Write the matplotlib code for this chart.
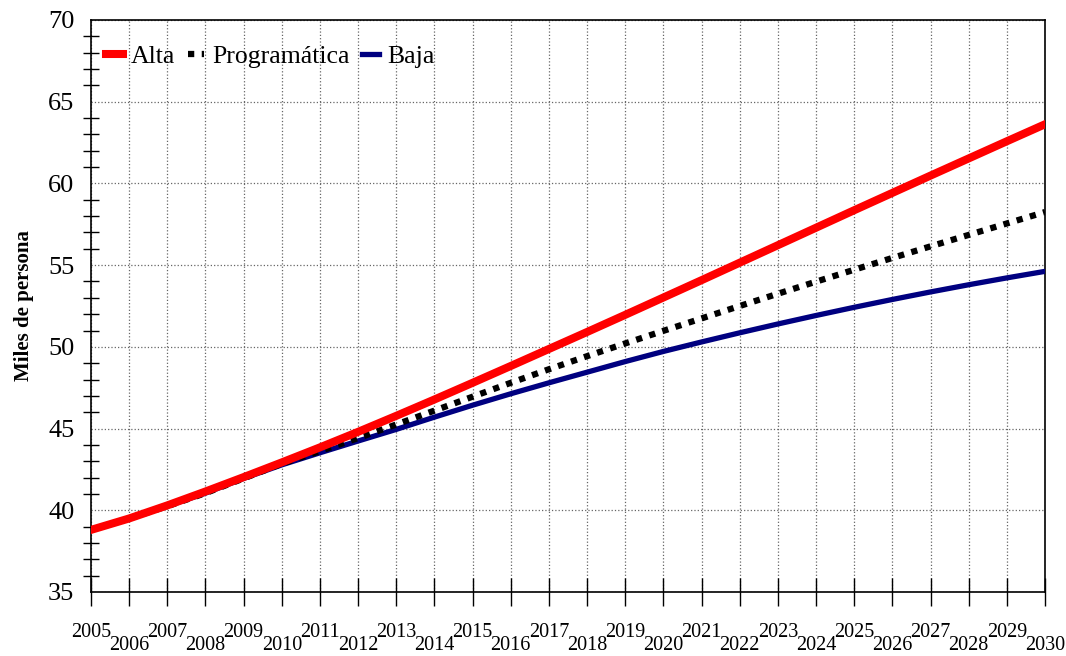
import matplotlib
matplotlib.use("Agg")
from matplotlib import pyplot as plt
from matplotlib.ticker import MultipleLocator
from matplotlib.transforms import ScaledTranslation

years = list(range(2005, 2031))

alta = [38.8, 39.5, 40.3, 41.15, 42.03, 42.93, 43.85, 44.8, 45.78, 46.78,
        47.8, 48.83, 49.87, 50.91, 51.96, 53.02, 54.08, 55.15, 56.22, 57.29,
        58.36, 59.42, 60.48, 61.53, 62.58, 63.62]

programatica = [38.8, 39.5, 40.25, 41.05, 41.95, 42.85, 43.62, 44.42, 45.25, 46.1,
                46.95, 47.8, 48.63, 49.43, 50.21, 50.98, 51.74, 52.5, 53.25, 53.99,
                54.72, 55.44, 56.15, 56.85, 57.55, 58.25]

baja = [38.8, 39.5, 40.25, 41.05, 41.95, 42.78, 43.52, 44.24, 44.95, 45.7,
        46.43, 47.13, 47.8, 48.45, 49.1, 49.72, 50.3, 50.86, 51.4, 51.92,
        52.42, 52.9, 53.36, 53.8, 54.22, 54.62]

plt.rcParams['font.family'] = ['Liberation Serif', 'DejaVu Serif']

fig = plt.figure(figsize=(10.66, 6.56), dpi=100)
ax = fig.add_axes([91/1066, 1 - 592/656, (1045 - 91)/1066, (592 - 20)/656])

ax.plot(years, baja, color='#000080', lw=3.8, label='Baja', zorder=3)
ax.plot(years, programatica, color='black', lw=4.5, linestyle=(0, (1, 1.2)),
        dash_capstyle='butt', label='Programática', zorder=4)
ax.plot(years, alta, color='red', lw=5.8, label='Alta', zorder=5)

ax.set_xlim(2005, 2030)
ax.set_ylim(35, 70)

ax.xaxis.set_major_locator(MultipleLocator(1))
ax.yaxis.set_major_locator(MultipleLocator(5))
ax.yaxis.set_minor_locator(MultipleLocator(1))

ax.grid(True, which='major', color='#666666', linestyle=':', linewidth=0.9)
ax.set_axisbelow(True)

ax.tick_params(axis='x', which='major', direction='inout', length=20, width=1,
               labelsize=14.5, pad=12)
ax.tick_params(axis='y', which='major', direction='inout', length=0,
               labelsize=19, pad=12)
ax.tick_params(axis='y', which='minor', direction='inout', length=12, width=1)

ax.set_xticks(years)
ax.set_xticklabels([str(y) for y in years])
offset = ScaledTranslation(0, -13/100, fig.dpi_scale_trans)
for y, lab in zip(years, ax.get_xticklabels()):
    if y % 2 == 0:
        lab.set_transform(lab.get_transform() + offset)

for s in ax.spines.values():
    s.set_linewidth(1.2)

ax.set_ylabel('Miles de persona', fontsize=15, fontweight='bold', labelpad=10)

handles, labels = ax.get_legend_handles_labels()
order = [2, 1, 0]
ax.legend([handles[i] for i in order], [labels[i] for i in order],
          loc='upper left', ncol=3, frameon=False, fontsize=18.5,
          handlelength=0.65, handletextpad=0.3, columnspacing=0.5,
          borderaxespad=0.0, bbox_to_anchor=(0.005, 0.975))

fig.savefig('out.png', dpi=100)
